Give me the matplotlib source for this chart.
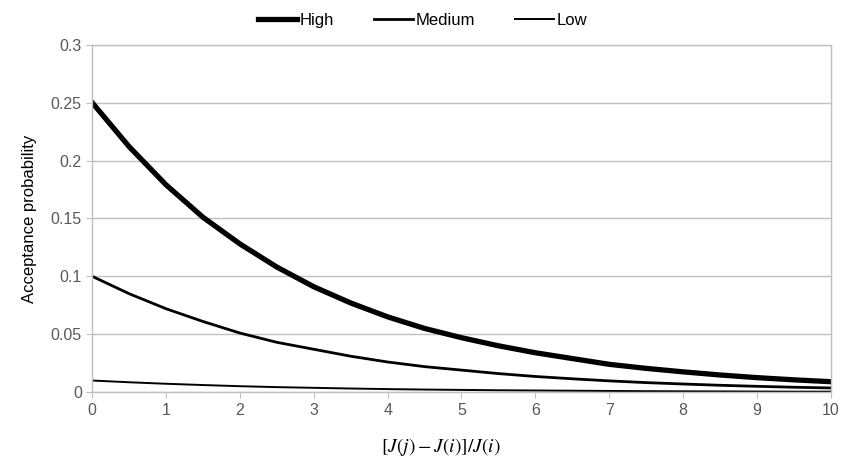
import matplotlib
matplotlib.use("Agg")
import matplotlib.pyplot as plt

# Relative cost difference, sampled every 0.5
x_values = [0, 0.5, 1, 1.5, 2, 2.5, 3, 3.5, 4, 4.5, 5,
            5.5, 6, 6.5, 7, 7.5, 8, 8.5, 9, 9.5, 10]

high = [0.250, 0.212, 0.179, 0.151, 0.128, 0.108, 0.091, 0.077, 0.065, 0.055, 0.047,
        0.040, 0.034, 0.029, 0.024, 0.0205, 0.0175, 0.0148, 0.0125, 0.0106, 0.0090]
medium = [0.100, 0.085, 0.072, 0.061, 0.051, 0.043, 0.037, 0.031, 0.026, 0.022, 0.019,
          0.016, 0.0135, 0.0115, 0.0097, 0.0082, 0.0070, 0.0059, 0.0050, 0.0042, 0.0036]
low = [0.0100, 0.0085, 0.0072, 0.0061, 0.0051, 0.0043, 0.0037, 0.0031, 0.0026, 0.0022, 0.0019,
       0.0016, 0.0014, 0.0012, 0.0010, 0.0008, 0.0007, 0.0006, 0.0005, 0.0004, 0.0004]

y_ticks = [0, 0.05, 0.1, 0.15, 0.2, 0.25, 0.3]
y_tick_labels = ["0", "0.05", "0.1", "0.15", "0.2", "0.25", "0.3"]
x_ticks = list(range(0, 11))

plt.rcParams["font.family"] = ["Liberation Sans", "DejaVu Sans"]
plt.rcParams["mathtext.fontset"] = "stix"

grid_color = "#c0c0c0"
tick_color = "#595959"

fig = plt.figure(figsize=(8.46, 4.57), dpi=100)
ax = fig.add_axes([0.109, 0.142, 0.873, 0.760])

ax.plot(x_values, high, color="black", linewidth=3.8, label="High")
ax.plot(x_values, medium, color="black", linewidth=2.0, label="Medium")
ax.plot(x_values, low, color="black", linewidth=1.4, label="Low")

ax.set_xlim(0, 10)
ax.set_ylim(0, 0.3)
ax.set_xticks(x_ticks)
ax.set_yticks(y_ticks)
ax.set_yticklabels(y_tick_labels)
ax.yaxis.grid(True, color=grid_color, linewidth=1)
ax.set_axisbelow(True)

for side in ["left", "bottom", "right", "top"]:
    ax.spines[side].set_color(grid_color)
    ax.spines[side].set_linewidth(1)

ax.tick_params(axis="both", colors=grid_color, labelcolor=tick_color, labelsize=11.5,
               length=4, direction="out")

ax.set_ylabel("Acceptance probability", fontsize=12, color="black", labelpad=10)
ax.set_xlabel(r"$[J(j) - J(i)]/J(i)$", fontsize=14, color="black")
ax.xaxis.set_label_coords(0.472, -0.125)

fig.legend(loc="upper center", bbox_to_anchor=(0.5, 1.005), ncol=3, frameon=False,
           fontsize=12, handlelength=2.3, handletextpad=0.2, columnspacing=2.4)

fig.savefig("out.png", dpi=100)
